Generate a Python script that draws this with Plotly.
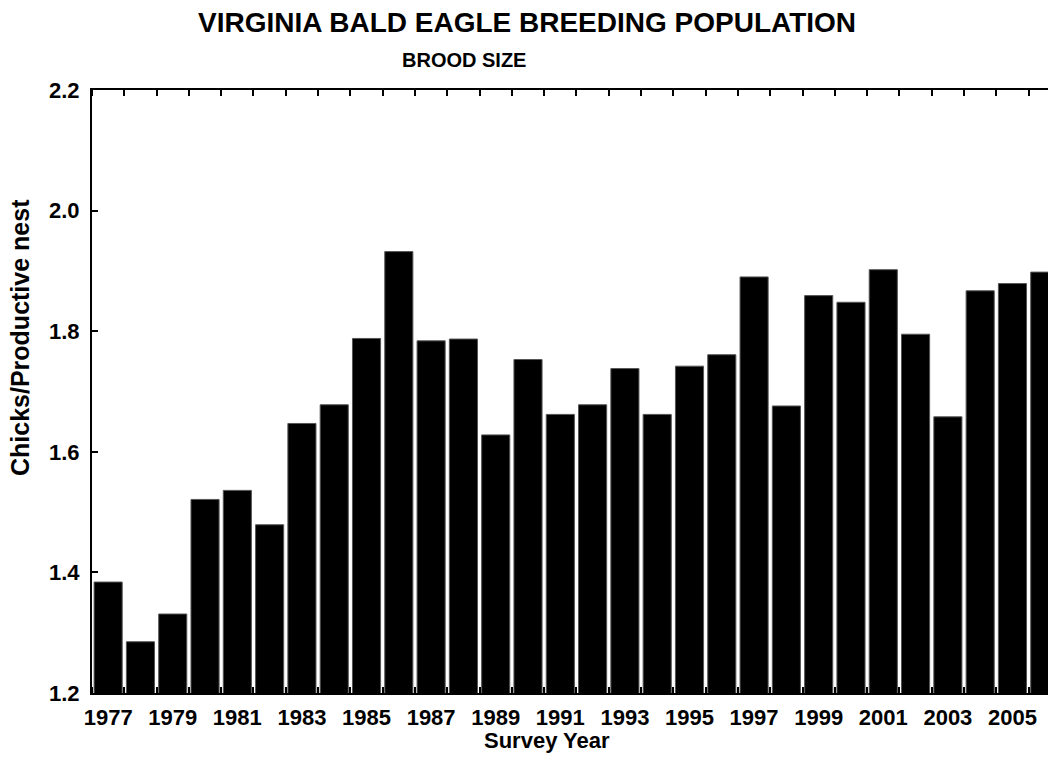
import plotly.graph_objects as go

years = list(range(1977, 2007))
brood_size = [1.384, 1.285, 1.331, 1.521, 1.536, 1.479, 1.647, 1.678, 1.788, 1.932,
              1.784, 1.787, 1.628, 1.753, 1.662, 1.678, 1.738, 1.662, 1.742, 1.761,
              1.890, 1.676, 1.859, 1.848, 1.902, 1.795, 1.658, 1.867, 1.879, 1.898]
label_years = [y for y in years if y % 2 == 1]
y_ticks = [1.2, 1.4, 1.6, 1.8, 2.0, 2.2]

FONT = "Liberation Sans, Arial, sans-serif"
W, H = 1048, 783
ML, MR, MT, MB = 92, 0, 90, 90


def px_to_paper(xp, yp):
    pw = W - ML - MR
    ph = H - MT - MB
    return (xp - ML) / pw, (H - MB - yp) / ph


ann = []
for text, xp, yp, size, angle in [
    ("VIRGINIA BALD EAGLE BREEDING POPULATION", 527, 22, 28, 0),
    ("BROOD SIZE", 464, 60, 20, 0),
    ("Survey Year", 547, 740, 22, 0),
    ("Chicks/Productive nest", 20, 338, 25, -90),
]:
    xx, yy = px_to_paper(xp, yp)
    ann.append(dict(text=text, x=xx, y=yy, xref="paper", yref="paper", showarrow=False,
                    xanchor="center", yanchor="middle", textangle=angle,
                    font=dict(size=size, family=FONT, weight="bold", color="black")))

fig = go.Figure(go.Bar(
    x=years, y=brood_size, width=0.87,
    marker=dict(color="black", line=dict(color="#555555", width=1)),
))

fig.update_layout(
    width=W, height=H,
    margin=dict(l=ML, r=MR, t=MT, b=MB, autoexpand=False),
    paper_bgcolor="white", plot_bgcolor="white",
    showlegend=False,
    font=dict(family=FONT, color="black", weight="bold"),
    annotations=ann,
)

fig.update_xaxes(
    range=[1976.5, 2006.1],
    tickmode="array", tickvals=label_years, ticktext=[str(y) for y in label_years],
    ticks="", showline=True, linecolor="black", linewidth=2, mirror="allticks",
    minor=dict(tickmode="linear", tick0=1976.5, dtick=1, ticks="inside", ticklen=6,
               tickwidth=2, tickcolor="black", showgrid=False),
    showgrid=False, zeroline=False, ticklabelstandoff=4,
    tickfont=dict(size=22, family=FONT, weight="bold", color="black"),
)
fig.update_yaxes(
    range=[1.2, 2.2],
    tickmode="array", tickvals=y_ticks, ticktext=[f"{v:.1f}" for v in y_ticks],
    ticks="inside", ticklen=6, tickwidth=2, tickcolor="black",
    showline=True, linecolor="black", linewidth=2, mirror=False,
    showgrid=False, zeroline=False, ticklabelstandoff=6,
    tickfont=dict(size=22, family=FONT, weight="bold", color="black"),
)

fig.write_html("out.html", config={"displayModeBar": False},
               post_script="document.body.style.margin='0';document.body.style.overflow='hidden';")
